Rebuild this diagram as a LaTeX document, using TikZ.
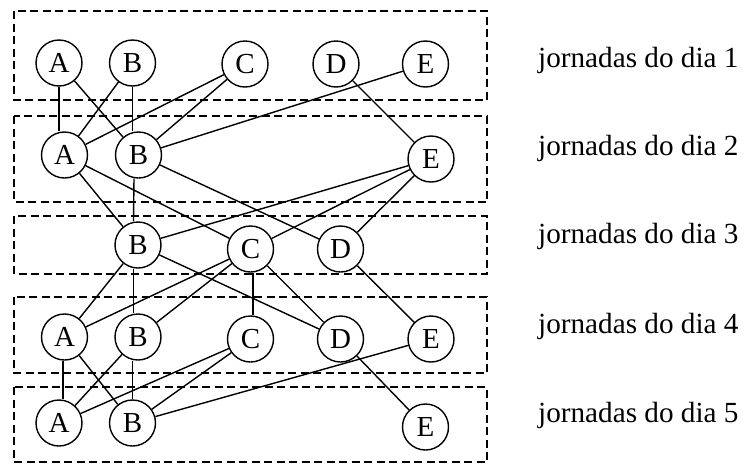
\documentclass[tikz,border=0pt]{standalone}
\usepackage{fontspec}
\setmainfont{Liberation Serif}
\begin{document}
\begin{tikzpicture}[x=1pt,y=-1pt,
  day/.style={circle,draw,line width=1.4pt,minimum size=46pt,inner sep=0pt,
              font=\fontsize{29}{29}\selectfont},
  dayframe/.style={draw,line width=1.4pt,dash pattern=on 8pt off 4.5pt},
  link/.style={line width=1.4pt},
  daylabel/.style={anchor=base west,inner sep=0pt,font=\fontsize{29.2}{31}\selectfont}]
\useasboundingbox (0,0) rectangle (748,464);

% dashed frames, one per day
\draw[dayframe] (14,11)  rectangle (487,100);
\draw[dayframe] (14,116) rectangle (487,202);
\draw[dayframe] (14,216) rectangle (487,274);
\draw[dayframe] (14,297) rectangle (487,373);
\draw[dayframe] (14,387) rectangle (487,462);

% day 1
\node[day] (A1) at (59,63)    {A};
\node[day] (B1) at (132.5,63) {B};
\node[day] (C1) at (245,64)   {C};
\node[day] (D1) at (336,64)   {D};
\node[day] (E1) at (425.5,64) {E};
% day 2
\node[day] (A2) at (64.5,155) {A};
\node[day] (B2) at (138.5,155){B};
\node[day] (E2) at (431,159)  {E};
% day 3
\node[day] (B3) at (138,245)  {B};
\node[day] (C3) at (250.5,249){C};
\node[day] (D3) at (340.5,249){D};
% day 4
\node[day] (A4) at (64.5,337) {A};
\node[day] (B4) at (138,337)  {B};
\node[day] (C4) at (250.5,339){C};
\node[day] (D4) at (340.5,339){D};
\node[day] (E4) at (431,339)  {E};
% day 5
\node[day] (A5) at (59,423)   {A};
\node[day] (B5) at (132.5,423){B};
\node[day] (E5) at (425.5,427){E};

% labels
\node[daylabel] (L1) at (538,67)  {jornadas do dia 1};
\node[daylabel] (L2) at (538,155) {jornadas do dia 2};
\node[daylabel] (L3) at (538,243) {jornadas do dia 3};
\node[daylabel] (L4) at (538,333) {jornadas do dia 4};
\node[daylabel] (L5) at (538,422) {jornadas do dia 5};

% day 1 -> day 2
\draw[link] (A1.south) -- (A1.south |- A2.north);
\draw[link] (A1) -- (B2);
\draw[link] (B1) -- (A2);
\draw[link] (B1.south) -- (B1.south |- B2.north);
\draw[link] (C1) -- (A2);
\draw[link] (C1) -- (B2);
\draw[link] (D1) -- (E2);
\draw[link] (E1) -- (B2);

% day 2 -> day 3
\draw[link] (A2) -- (B3);
\draw[link] (A2) -- (C3);
\draw[link] ([xshift=-4.5pt]B2.south) -- ([xshift=-4.5pt]B3.north);
\draw[link] (B2) -- (D3);
\draw[link] (E2) -- (B3);
\draw[link] (E2) -- (C3);
\draw[link] (E2) -- (D3);

% day 3 -> day 4
\draw[link] (B3) -- (A4);
\draw[link] ([xshift=-4.5pt]B3.south) -- ([xshift=-4.5pt]B4.north);
\draw[link] (B3) -- (D4);
\draw[link] (C3) -- (A4);
\draw[link] (C3) -- (B4);
\draw[link] ([xshift=2.5pt]C3.south) -- ([xshift=2.5pt]C4.north);
\draw[link] (C3) -- (D4);
\draw[link] (D3) -- (E4);

% day 4 -> day 5
\draw[link] ([xshift=-1.5pt]A4.south) -- ([xshift=-1.5pt]A4.south |- A5.north);
\draw[link] (A4) -- (B5);
\draw[link] (B4) -- (A5);
\draw[link] (B5.north) -- (B5.north |- B4.south);
\draw[link] (C4) -- (A5);
\draw[link] (C4) -- (B5);
\draw[link] (D4) -- (E5);
\draw[link] (E4) -- (B5);
\end{tikzpicture}
\end{document}
